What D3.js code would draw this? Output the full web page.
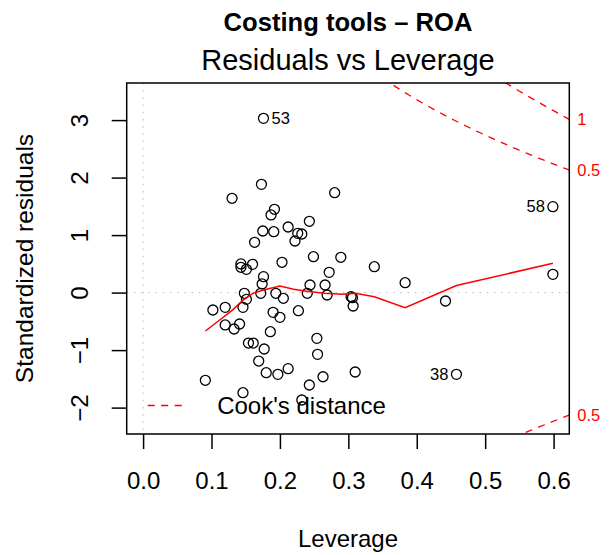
<!DOCTYPE html>
<html>
<head>
<meta charset="utf-8">
<script src="https://cdn.jsdelivr.net/npm/d3@7"></script>
<style>
body { margin: 0; background: #fff; }
svg text { font-family: "Liberation Sans", Arial, sans-serif; fill: #000; }
</style>
</head>
<body>
<svg id="plot" width="610" height="555"></svg>
<script>
// hat values and standardized residuals
let leverage = [0.176, 0.173, 0.130, 0.280, 0.192, 0.187, 0.243, 0.175, 0.191, 0.212,
	0.226, 0.232, 0.222, 0.163, 0.143, 0.143, 0.151, 0.160, 0.203, 0.249,
	0.289, 0.272, 0.176, 0.174, 0.172, 0.148, 0.151, 0.146, 0.120, 0.102,
	0.194, 0.205, 0.190, 0.200, 0.227, 0.244, 0.240, 0.266, 0.269, 0.120,
	0.133, 0.141, 0.186, 0.154, 0.161, 0.177, 0.254, 0.255, 0.169, 0.180,
	0.197, 0.212, 0.263, 0.243, 0.091, 0.146, 0.232, 0.338, 0.383, 0.304,
	0.306, 0.307, 0.442, 0.599, 0.310, 0.458, 0.599];
let stdResid = [3.031, 1.883, 1.640, 1.737, 1.449, 1.350, 1.240, 1.071, 1.059, 1.141,
	1.031, 1.019, 0.897, 0.875, 0.499, 0.440, 0.405, 0.492, 0.527, 0.624,
	0.614, 0.353, 0.277, 0.150, -0.012, -0.012, -0.117, -0.256, -0.256, -0.303,
	-0.012, -0.099, -0.343, -0.430, -0.315, 0.132, -0.012, 0.132, -0.042, -0.563,
	-0.633, -0.546, -0.680, -0.877, -0.877, -0.981, -0.795, -1.073, -1.190, -1.393,
	-1.421, -1.323, -1.463, -1.607, -1.525, -1.741, -1.868, 0.450, 0.172, -0.071,
	-0.089, -0.233, -0.146, 0.318, -1.381, -1.421, 1.494];
// labelled observations (index into the arrays above)
let idIndex = [0, 65, 66];
let idNames = ["53", "38", "58"];

// panel.smooth (lowess) vertices
let smoothLev = [0.091, 0.112, 0.131, 0.146, 0.161, 0.176, 0.200, 0.220, 0.239, 0.265, 0.290, 0.310, 0.338, 0.383, 0.458, 0.599];
let smoothRes = [-0.668, -0.477, -0.300, -0.129, -0.010, 0.045, 0.115, 0.060, 0.023, -0.010, -0.030, -0.012, -0.071, -0.263, 0.123, 0.510];

let cookLevels = [0.5, 1];
let modelRank = 15;

let xTicks = [0, 0.1, 0.2, 0.3, 0.4, 0.5, 0.6];
let yTicks = [-2, -1, 0, 1, 2, 3];
let yDomain = [-2.459, 3.645];

let svg = d3.select("svg#plot"),
	box = {left: 126.7, right: 569.3, top: 83, bottom: 434};

// R style xlim: c(0, max(h)) widened by 4%
let hmax = d3.max(leverage);
let x = d3.scaleLinear()
	.domain([-0.04 * hmax, hmax * 1.04])
	.range([box.left, box.right]);
let y = d3.scaleLinear()
	.domain(yDomain)
	.range([box.bottom, box.top]);

svg.append("defs").append("clipPath").attr("id", "clip")
	.append("rect")
	.attr("x", box.left).attr("y", box.top)
	.attr("width", box.right - box.left).attr("height", box.bottom - box.top);

let plot = svg.append("g").attr("clip-path", "url(#clip)");

// dotted reference lines
plot.append("line")
	.attr("x1", x(0)).attr("x2", x(0))
	.attr("y1", box.top).attr("y2", box.bottom)
	.attr("stroke", "#bebebe").attr("stroke-dasharray", "1.6,5.6");
plot.append("line")
	.attr("x1", box.left).attr("x2", box.right)
	.attr("y1", y(0)).attr("y2", y(0))
	.attr("stroke", "#bebebe").attr("stroke-dasharray", "1.6,5.6");

// points
plot.selectAll("circle")
	.data(leverage)
	.enter().append("circle")
	.attr("cx", function(d) { return x(d); })
	.attr("cy", function(d, i) { return y(stdResid[i]); })
	.attr("r", 5)
	.attr("fill", "none")
	.attr("stroke", "#000")
	.attr("stroke-width", 1.3);

// smoother
let line = d3.line()
	.x(function(d) { return x(d[0]); })
	.y(function(d) { return y(d[1]); });
plot.append("path")
	.datum(smoothLev.map(function(h, i) { return [h, smoothRes[i]]; }))
	.attr("d", line)
	.attr("fill", "none")
	.attr("stroke", "#ff0000")
	.attr("stroke-width", 1.5);

// Cook's distance contours
let usr2 = x.domain()[1],
	hStart = Math.min(d3.min(leverage), hmax / 100),
	hh = d3.range(101).map(function(i) { return hStart + i * (usr2 - hStart) / 100; });

cookLevels.forEach(function(crit) {
	[1, -1].forEach(function(sgn) {
		plot.append("path")
			.datum(hh.map(function(h) { return [h, sgn * Math.sqrt(crit * modelRank * (1 - h) / h)]; }))
			.attr("d", line)
			.attr("fill", "none")
			.attr("stroke", "#ff0000")
			.attr("stroke-width", 1.3)
			.attr("stroke-dasharray", "7,6.5");
	});
});

// id labels
let xMid = (x.domain()[0] + x.domain()[1]) / 2;
svg.selectAll("text.id")
	.data(idIndex)
	.enter().append("text")
	.attr("class", "id")
	.attr("x", function(i) { return leverage[i] > xMid ? x(leverage[i]) - 8 : x(leverage[i]) + 8; })
	.attr("y", function(i) { return y(stdResid[i]); })
	.attr("dy", "0.35em")
	.attr("text-anchor", function(i) { return leverage[i] > xMid ? "end" : "start"; })
	.style("font-size", "16.5px")
	.text(function(i, k) { return idNames[k]; });

// box
svg.append("rect")
	.attr("x", box.left).attr("y", box.top)
	.attr("width", box.right - box.left).attr("height", box.bottom - box.top)
	.attr("fill", "none").attr("stroke", "#000").attr("stroke-width", 1.5);

// axes
let xAxis = svg.append("g")
	.attr("transform", "translate(0," + box.bottom + ")")
	.call(d3.axisBottom(x).tickValues(xTicks).tickFormat(d3.format(".1f")).tickSize(15).tickPadding(23));
xAxis.select(".domain").remove();
xAxis.selectAll("line").attr("stroke-width", 1.5);
xAxis.selectAll("text").style("font-size", "24px");

let yAxis = svg.append("g")
	.attr("transform", "translate(" + box.left + ",0)")
	.call(d3.axisLeft(y).tickValues(yTicks).tickFormat(d3.format("d")).tickSize(15));
yAxis.select(".domain").remove();
yAxis.selectAll("line").attr("stroke-width", 1.5);
yAxis.selectAll("text")
	.attr("transform", "rotate(-90)")
	.attr("x", 0).attr("y", -38.7).attr("dy", null)
	.attr("text-anchor", "middle")
	.style("font-size", "24px")
	.text(function(d) { return d < 0 ? "\u2212" + Math.abs(d) : d; });

// right axis: Cook's levels
let ymult = Math.sqrt(modelRank * (1 - Math.min(0.99, usr2)) / Math.min(0.99, usr2));
let cookTicks = cookLevels.slice().reverse().map(function(c) { return {v: -Math.sqrt(c) * ymult, c: c}; })
	.concat(cookLevels.map(function(c) { return {v: Math.sqrt(c) * ymult, c: c}; }))
	.filter(function(d) { return d.v >= yDomain[0] && d.v <= yDomain[1]; });
svg.selectAll("text.cook")
	.data(cookTicks)
	.enter().append("text")
	.attr("class", "cook")
	.attr("x", box.right + 8)
	.attr("y", function(d) { return y(d.v); })
	.attr("dy", "0.35em")
	.style("font-size", "16.5px")
	.style("fill", "#ff0000")
	.text(function(d) { return d.c; });

// legend
svg.append("line")
	.attr("x1", box.left + 21).attr("x2", box.left + 58)
	.attr("y1", box.bottom - 28.5).attr("y2", box.bottom - 28.5)
	.attr("stroke", "#ff0000").attr("stroke-width", 1.3).attr("stroke-dasharray", "7,6.5");
svg.append("text")
	.attr("x", box.left + 90.5).attr("y", box.bottom - 28.5)
	.attr("dy", "0.35em")
	.style("font-size", "24px")
	.text("Cook's distance");

// titles
let cx = (box.left + box.right) / 2;
svg.append("text")
	.attr("x", cx).attr("y", 31)
	.attr("text-anchor", "middle")
	.style("font-size", "25.6px").style("font-weight", "bold")
	.text("Costing tools \u2013 ROA");
svg.append("text")
	.attr("x", cx).attr("y", 70)
	.attr("text-anchor", "middle")
	.style("font-size", "29px")
	.text("Residuals vs Leverage");
svg.append("text")
	.attr("x", cx).attr("y", 547)
	.attr("text-anchor", "middle")
	.style("font-size", "24px")
	.text("Leverage");
svg.append("text")
	.attr("transform", "translate(33," + ((box.top + box.bottom) / 2) + ") rotate(-90)")
	.attr("text-anchor", "middle")
	.style("font-size", "24.5px")
	.text("Standardized residuals");
</script>
</body>
</html>
